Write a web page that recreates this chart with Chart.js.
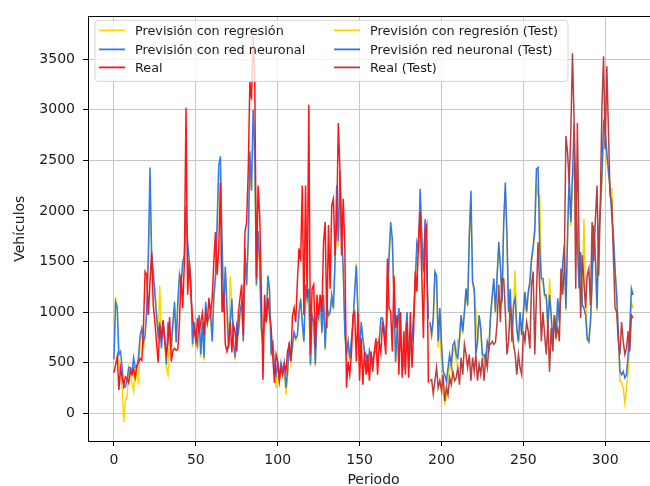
<!DOCTYPE html>
<html><head><meta charset="utf-8">
<script src="https://cdn.jsdelivr.net/npm/chart.js@4/dist/chart.umd.min.js"></script>
<style>
html,body{margin:0;padding:0;overflow:hidden;background:#fff;width:650px;height:486px}
#wrap{position:absolute;left:0;top:0;width:665px;height:486px}
</style>
</head><body><div id="wrap"><canvas id="c" width="665" height="486"></canvas></div>
<script>
const trainStart = 0;
const testStart = 193;
const xTicks = [0, 50, 100, 150, 200, 250, 300];
const yTicks = [0, 500, 1000, 1500, 2000, 2500, 3000, 3500];
const seriesLabels = ['Previsión con regresión', 'Previsión con red neuronal', 'Real',
  'Previsión con regresión (Test)', 'Previsión red neuronal (Test)', 'Real (Test)'];

const realTrain = [
400,480,560,230,450,350,270,360,340,300,
420,380,440,350,470,500,540,520,840,1400,
1370,970,1300,1590,1070,900,700,500,870,740,
920,710,580,700,950,510,620,640,620,630,
900,1370,1040,1490,3020,1170,1510,1170,940,820,
710,940,810,900,990,770,1000,900,1140,980,
1140,1500,1790,1370,1630,2280,1000,1200,680,610,
680,900,600,870,800,610,1000,1140,1270,770,
1790,1890,2400,3280,3100,3720,3280,1330,2250,1960,
1200,330,1170,900,1140,970,840,550,300,580,
510,320,450,380,480,410,610,680,510,960,
1040,900,1300,1630,1500,2250,970,2250,1140,3050,
580,1230,1270,640,1170,970,1170,1000,1690,1890,
840,1860,1230,2050,2120,1560,1860,2870,2410,1560,
2120,1630,250,510,380,580,970,1000,510,1000,
320,740,280,610,380,580,320,610,410,610,
740,380,700,600,900,760,580,1530,1040,1000,
610,1360,840,970,380,1000,350,810,380,900,
350,1000,450,810,1400,1200,1730,1990,1360,740,
1790,1860,300];

const nnTrain = [
530,1100,1050,580,610,450,250,260,320,450,
450,400,550,450,450,560,770,840,700,770,
1000,1560,2430,1600,1400,1170,970,770,900,640,
900,750,480,900,800,660,900,1100,700,1100,
1370,1270,1500,1560,2050,1700,1500,1300,680,900,
750,680,970,580,900,550,1100,900,950,1000,
710,1170,1360,1890,2450,2540,1700,1000,1450,1050,
640,900,1130,700,550,870,800,1000,1100,710,
1630,1270,1730,2590,2200,3000,2610,1270,1800,1500,
840,700,1000,900,1360,1230,580,720,450,380,
500,350,500,420,500,250,400,700,520,670,
800,740,770,1000,1130,900,710,1270,1130,1230,
480,970,900,480,1000,940,1170,800,1170,640,
1070,970,1000,1170,1040,1500,2250,1700,2400,1800,
1430,790,580,710,540,720,900,1200,1460,1000,
580,900,740,610,580,410,620,560,520,600,
610,700,710,940,940,840,710,1030,1560,1890,
1720,1130,505,840,1040,680,577,480,780,1000,
446,680,710,970,1300,1690,1620,2220,1760,1400,
1920,1400,940];

const regTrain = [
560,1150,1000,500,400,250,-90,130,150,450,
380,300,220,450,350,300,700,800,650,750,
1000,1500,2100,1500,1300,1260,1000,750,1260,700,
850,700,450,380,800,620,850,1050,700,1050,
1300,1250,1450,1500,1950,1650,1450,1250,650,900,
720,650,950,550,870,520,1050,880,920,980,
700,1120,1300,1800,2300,2400,1650,1000,1420,1000,
640,1350,1080,680,520,850,780,980,1080,700,
1550,1250,1650,2400,2220,2800,2500,1250,1700,1450,
820,680,980,880,1300,1200,560,700,420,250,
450,300,450,380,450,180,350,650,500,640,
780,720,750,980,1100,880,700,1230,1100,1200,
460,950,880,460,980,920,1140,780,1140,620,
1050,950,980,1140,1020,1450,2150,1650,2250,1750,
1400,780,560,700,520,700,880,1180,1480,980,
560,880,720,600,560,400,600,550,500,580,
600,680,700,920,920,820,700,1000,1500,1820,
1680,1100,500,820,1020,660,560,470,760,980,
430,660,700,950,1280,1650,1580,2150,1720,1380,
1850,1380,920];

const realTest = [
320,330,190,320,450,250,320,220,380,120,
250,180,350,280,410,320,350,450,280,550,
380,680,580,450,580,320,550,410,580,320,
480,380,550,320,550,450,680,680,710,680,
700,900,1270,900,1330,1330,1000,580,710,1070,
900,680,580,380,580,450,380,810,710,900,
810,640,1270,1400,580,1170,1690,1230,710,1000,
770,580,900,410,840,610,970,770,840,710,
1430,1170,1430,2740,2580,2280,2780,3560,2900,1230,
2870,1690,940,1560,1300,1040,1360,1430,1070,1890,
1500,1920,2250,1360,2050,3040,3530,2610,3430,2780,
2150,2090,1560,1040,1000,710,580,900,710,580,
640,810,610,970,940];

const nnTest = [
900,780,940,1400,1360,710,1040,700,413,380,
315,446,577,479,675,708,577,545,741,970,
807,1003,1233,1070,1760,2200,1300,1233,577,708,
970,840,577,577,512,708,643,970,1167,1332,
1003,1364,1692,1463,1102,1890,2280,1758,1003,1230,
708,1070,1135,840,708,1000,774,1000,1200,1003,
1200,1300,1528,1650,1823,2414,2430,1627,1332,1332,
1167,1167,840,1167,970,708,970,741,1135,905,
1233,1463,1660,1036,1758,2348,1890,2348,2857,2217,
1725,1233,1594,1070,1036,970,741,708,905,1300,
1857,1561,1036,1758,2020,2381,2873,2808,2578,2400,
2217,1955,1758,1430,1167,807,413,380,413,348,
380,577,840,1233,1167];

const regTest = [
870,760,900,1350,1300,650,900,500,200,100,
150,350,500,420,600,650,520,720,700,940,
780,980,1200,1050,1700,2100,1280,1200,1020,680,
950,820,560,560,500,690,630,950,1140,1300,
980,1330,1650,1430,1080,1850,2200,1720,980,1200,
700,1050,1410,820,690,980,760,980,1170,980,
1170,1270,1500,1620,1780,2300,2150,2150,1300,1300,
1140,1140,820,1330,950,690,950,720,1100,880,
1200,1430,1620,1010,1720,2300,1850,2300,2450,2150,
1700,1300,1560,1050,1920,1200,720,700,880,1270,
1820,1530,1010,1720,1980,2300,2700,2650,2500,2350,
2200,2217,1700,1400,1140,780,315,300,250,100,
250,413,700,1100,1036];

function pts(arr, start) { return arr.map((v, i) => ({ x: start + i, y: v })); }

const FONT = 'DejaVu Sans';
const TXT = '#1a1a1a';
const TICK_SIZE = 14;

const framePlugin = {
  id: 'frame',
  afterDraw(chart) {
    const a = chart.chartArea, ctx = chart.ctx;
    ctx.save();
    ctx.strokeStyle = '#000';
    ctx.lineWidth = 1;
    ctx.strokeRect(Math.round(a.left) + 0.5, Math.round(a.top) + 0.5,
      Math.round(a.right - a.left), Math.round(a.bottom - a.top));
    ctx.restore();
  }
};

const legendPlugin = {
  id: 'mplLegend',
  afterDatasetsDraw(chart) {
    const ctx = chart.ctx, a = chart.chartArea;
    const ds = chart.data.datasets;
    const bx = a.left + 7, by = a.top + 4, bw = 473, bh = 61;
    ctx.save();
    ctx.beginPath();
    const r = 3;
    ctx.moveTo(bx + r, by);
    ctx.lineTo(bx + bw - r, by); ctx.quadraticCurveTo(bx + bw, by, bx + bw, by + r);
    ctx.lineTo(bx + bw, by + bh - r); ctx.quadraticCurveTo(bx + bw, by + bh, bx + bw - r, by + bh);
    ctx.lineTo(bx + r, by + bh); ctx.quadraticCurveTo(bx, by + bh, bx, by + bh - r);
    ctx.lineTo(bx, by + r); ctx.quadraticCurveTo(bx, by, bx + r, by);
    ctx.closePath();
    ctx.fillStyle = 'rgba(255,255,255,0.8)';
    ctx.fill();
    ctx.strokeStyle = 'rgba(204,204,204,0.8)';
    ctx.lineWidth = 1;
    ctx.stroke();
    ctx.font = '12.8px "' + FONT + '"';
    ctx.textBaseline = 'middle';
    ctx.fillStyle = TXT;
    const colX = [bx + 4, bx + 239];
    const rowY = [by + 10, by + 29, by + 47];
    for (let k = 0; k < ds.length; k++) {
      const c = Math.floor(k / 3), rr = k % 3;
      const x = colX[c], y = rowY[rr];
      ctx.strokeStyle = ds[k].borderColor;
      ctx.lineWidth = 1.8;
      ctx.beginPath(); ctx.moveTo(x, y); ctx.lineTo(x + 26, y); ctx.stroke();
      ctx.fillStyle = TXT;
      ctx.fillText(ds[k].label, x + 36, y + 1);
    }
    ctx.restore();
  }
};

new Chart(document.getElementById('c'), {
  type: 'line',
  data: {
    datasets: [
      { label: seriesLabels[0], data: pts(regTrain, trainStart), borderColor: '#FFD700', order: 6 },
      { label: seriesLabels[1], data: pts(nnTrain, trainStart), borderColor: '#2E7CF0', order: 5 },
      { label: seriesLabels[2], data: pts(realTrain, trainStart), borderColor: '#FF1515', order: 4 },
      { label: seriesLabels[3], data: pts(regTest, testStart), borderColor: '#F5D300', order: 3 },
      { label: seriesLabels[4], data: pts(nnTest, testStart), borderColor: '#3574DC', order: 2 },
      { label: seriesLabels[5], data: pts(realTest, testStart), borderColor: '#BE3C3C', order: 1 }
    ]
  },
  options: {
    responsive: false,
    animation: false,
    layout: { padding: { left: 0, top: 14, right: 6, bottom: 0 } },
    elements: { point: { radius: 0 }, line: { borderWidth: 1.5, tension: 0, fill: false } },
    plugins: { legend: { display: false }, tooltip: { enabled: false } },
    scales: {
      x: {
        type: 'linear', min: -15.85, max: 332.85,
        afterBuildTicks: s => { s.ticks = xTicks.map(v => ({ value: v })); },
        afterFit: s => { s.height = 45; },
        grid: { color: '#c6c6c6', lineWidth: 1, tickLength: 5, tickColor: '#000', drawTicks: true },
        border: { color: '#000', width: 1 },
        ticks: { color: TXT, font: { family: FONT, size: TICK_SIZE }, padding: 6, maxRotation: 0, autoSkip: false,
                 callback: v => String(v) },
        title: { display: true, text: 'Periodo', color: TXT, font: { family: FONT, size: TICK_SIZE }, padding: { top: 0, bottom: -3 } }
      },
      y: {
        type: 'linear', min: -276, max: 3924,
        afterBuildTicks: s => { s.ticks = yTicks.map(v => ({ value: v })); },
        afterFit: s => { s.width = 88; },
        grid: { color: '#c6c6c6', lineWidth: 1, tickLength: 5, tickColor: '#000', drawTicks: true },
        border: { color: '#000', width: 1 },
        ticks: { color: TXT, font: { family: FONT, size: TICK_SIZE }, padding: 8, autoSkip: false,
                 callback: v => String(v) },
        title: { display: true, text: 'Vehículos', color: TXT, font: { family: FONT, size: TICK_SIZE }, padding: { top: 12, bottom: 0 } }
      }
    }
  },
  plugins: [framePlugin, legendPlugin]
});
</script>
</body></html>
